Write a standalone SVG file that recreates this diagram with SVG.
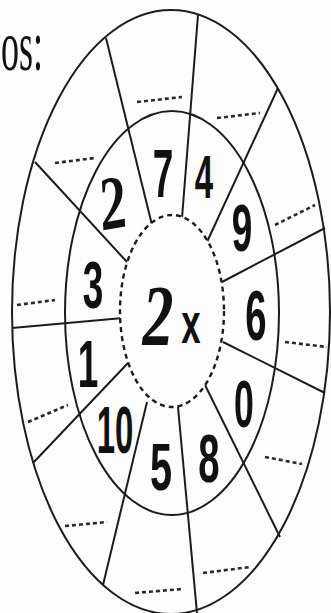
<svg xmlns="http://www.w3.org/2000/svg" width="331" height="613" viewBox="0 0 331 613">
<style>
.ring{fill:none;stroke:#1c1c1c;stroke-width:2}
.spoke{stroke:#1c1c1c;stroke-width:2;fill:none}
.blank{stroke:#2a2a2a;stroke-width:2.6;stroke-dasharray:4 3;fill:none}
.d{font-family:"Liberation Sans",Arial,sans-serif;font-weight:bold;font-size:66px;fill:#111;text-anchor:middle}
.s{font-family:"Liberation Serif","DejaVu Serif",serif;font-weight:bold;font-style:italic;fill:#111;text-anchor:middle}
</style>
<rect width="331" height="613" fill="#fdfdfd"/>
<text id="caption" transform="translate(1,70) scale(0.5,1)" font-family="Liberation Serif,serif" font-size="72" fill="#111">os:</text>
<g id="outer-ring"><ellipse class="ring" cx="171" cy="312" rx="159" ry="302"/></g>
<g id="middle-ring"><ellipse class="ring" cx="172" cy="313" rx="107" ry="202"/></g>
<g id="spokes">
<line class="spoke" x1="152" y1="225" x2="106" y2="38"/>
<line class="spoke" x1="182" y1="218" x2="198" y2="15"/>
<line class="spoke" x1="207" y1="242" x2="278" y2="88"/>
<line class="spoke" x1="222" y1="282" x2="325" y2="228"/>
<line class="spoke" x1="223" y1="342" x2="325" y2="393"/>
<line class="spoke" x1="205" y1="385" x2="280" y2="537"/>
<line class="spoke" x1="178" y1="407" x2="197" y2="613"/>
<line class="spoke" x1="147" y1="402" x2="103" y2="585"/>
<line class="spoke" x1="128" y1="363" x2="33" y2="463"/>
<line class="spoke" x1="123" y1="318" x2="12" y2="328"/>
<line class="spoke" x1="127" y1="262" x2="35" y2="162"/>
</g>
<g id="center">
<ellipse cx="172" cy="311" rx="52" ry="96" fill="#fdfdfd" stroke="#1c1c1c" stroke-width="2.4" stroke-dasharray="5 4"/>
<text class="s" transform="translate(158,345) scale(0.72,1)" font-size="86">2</text>
<text transform="translate(191,343) scale(0.6,1)" font-family="Liberation Sans,sans-serif" font-weight="bold" font-size="58" fill="#111" text-anchor="middle">x</text>
</g>
<g id="numbers">
<text class="s" transform="translate(117,228) rotate(-10) scale(0.7,1)" font-size="76">2</text>
<text class="d" transform="translate(163,197) scale(0.56,1.05)">7</text>
<text class="d" transform="translate(204,198) scale(0.5,0.92)">4</text>
<text class="d" transform="translate(242,251) scale(0.56,1)">9</text>
<text class="d" transform="translate(93,308) scale(0.56,1)">3</text>
<text class="d" transform="translate(256,340) scale(0.58,1.08)">6</text>
<text class="d" transform="translate(88,387) scale(0.56,1)">1</text>
<text class="d" transform="translate(244,427) scale(0.54,1)">0</text>
<text class="d" transform="translate(115,453) scale(0.5,1.02)">10</text>
<text class="d" transform="translate(161,490) scale(0.6,1)">5</text>
<text class="d" transform="translate(209,482) scale(0.58,1.05)">8</text>
</g>
<g id="blanks">
<line class="blank" x1="55" y1="163" x2="95" y2="158"/>
<line class="blank" x1="137" y1="102" x2="182" y2="97"/>
<line class="blank" x1="217" y1="118" x2="260" y2="113"/>
<line class="blank" x1="275" y1="225" x2="315" y2="205"/>
<line class="blank" x1="285" y1="342" x2="327" y2="347"/>
<line class="blank" x1="265" y1="457" x2="302" y2="464"/>
<line class="blank" x1="203" y1="573" x2="250" y2="567"/>
<line class="blank" x1="135" y1="593" x2="182" y2="589"/>
<line class="blank" x1="65" y1="526" x2="107" y2="522"/>
<line class="blank" x1="28" y1="422" x2="68" y2="405"/>
<line class="blank" x1="17" y1="305" x2="55" y2="300"/>
</g>
</svg>
